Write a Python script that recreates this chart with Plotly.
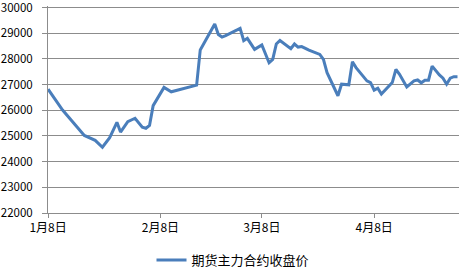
import plotly.graph_objects as go

dates = [
    "2013-01-08", "2013-01-12", "2013-01-18", "2013-01-21", "2013-01-23",
    "2013-01-25", "2013-01-27", "2013-01-28", "2013-01-30", "2013-02-01",
    "2013-02-03", "2013-02-04", "2013-02-05", "2013-02-06", "2013-02-09",
    "2013-02-11", "2013-02-18", "2013-02-19", "2013-02-23", "2013-02-24",
    "2013-02-25", "2013-02-26", "2013-03-02", "2013-03-03", "2013-03-04",
    "2013-03-06", "2013-03-08", "2013-03-10", "2013-03-11", "2013-03-12",
    "2013-03-13", "2013-03-16", "2013-03-17", "2013-03-18", "2013-03-19",
    "2013-03-21", "2013-03-24", "2013-03-25", "2013-03-26", "2013-03-27",
    "2013-03-29", "2013-03-30", "2013-04-01", "2013-04-02", "2013-04-03",
    "2013-04-06", "2013-04-07", "2013-04-08", "2013-04-09", "2013-04-10",
    "2013-04-13", "2013-04-14", "2013-04-15", "2013-04-17", "2013-04-19",
    "2013-04-20", "2013-04-21", "2013-04-22", "2013-04-23", "2013-04-24",
    "2013-04-26", "2013-04-27", "2013-04-28", "2013-04-29", "2013-04-30",
    "2013-05-01",
]
prices = [
    26820, 26010, 25020, 24830, 24560,
    24930, 25530, 25150, 25560, 25690,
    25340, 25300, 25410, 26180, 26890,
    26720, 26980, 28350, 29360, 28950,
    28850, 28910, 29190, 28710, 28800,
    28370, 28545, 27850, 27980, 28580,
    28715, 28400, 28580, 28460, 28480,
    28340, 28175, 27980, 27465, 27145,
    26565, 27015, 26990, 27890, 27660,
    27145, 27080, 26785, 26860, 26630,
    27080, 27595, 27400, 26910, 27145,
    27180, 27070, 27170, 27170, 27720,
    27375, 27250, 27015, 27250, 27310,
    27310,
]
series_name = "期货主力合约收盘价"
tick_dates = ["2013-01-08", "2013-02-08", "2013-03-08", "2013-04-08"]
tick_labels = ["1月8日", "2月8日", "3月8日", "4月8日"]
y_ticks = [22000, 23000, 24000, 25000, 26000, 27000, 28000, 29000, 30000]

font_family = "Noto Sans CJK SC, DejaVu Sans, sans-serif"
grid_color = "#8c8c8c"

fig = go.Figure()
fig.add_trace(go.Scatter(
    x=dates, y=prices, mode="lines", name=series_name,
    line=dict(color="#4a7ebb", width=3),
    showlegend=True,
))

fig.update_layout(
    width=466, height=270,
    margin=dict(l=48, r=7, t=5.5, b=56.6),
    paper_bgcolor="white", plot_bgcolor="white",
    font=dict(family=font_family, size=11, color="#000000"),
    showlegend=True,
    legend=dict(
        orientation="h", xref="container", yref="container",
        x=0.5, xanchor="center", y=0.037, yanchor="middle",
        font=dict(size=13, color="#000000"),
        itemwidth=30,
    ),
    xaxis=dict(
        type="date",
        range=["2013-01-07 23:30", "2013-05-01 10:00"],
        tickmode="array", tickvals=tick_dates, ticktext=tick_labels,
        showgrid=False, showline=True, linecolor=grid_color, linewidth=1,
        ticks="outside", ticklen=4, tickcolor=grid_color,
        tickfont=dict(size=12, color="#000000"), zeroline=False,
        automargin=False,
    ),
    yaxis=dict(
        range=[22000, 30060],
        tickmode="array", tickvals=y_ticks,
        tickformat="d",
        showgrid=True, gridcolor=grid_color, gridwidth=1,
        showline=True, linecolor=grid_color, linewidth=1,
        ticks="outside", ticklen=5, tickcolor=grid_color,
        ticklabelstandoff=7, ticklabeloverflow="allow",
        tickfont=dict(size=11.5, color="#000000"), zeroline=False,
        automargin=False,
    ),
)

fig.write_html("out.html")
